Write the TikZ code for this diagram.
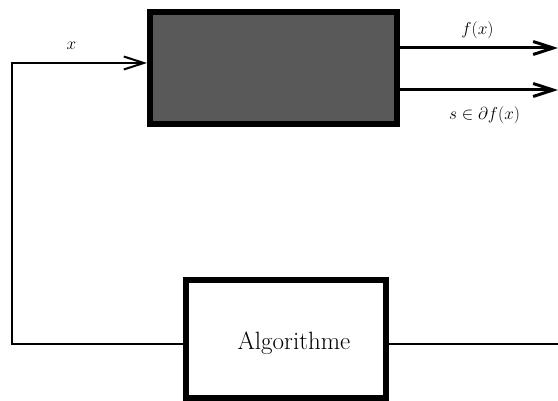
\documentclass[tikz,border=0pt]{standalone}
\usetikzlibrary{arrows.meta}
\definecolor{boxgray}{RGB}{89,89,89}
\begin{document}
\begin{tikzpicture}[x=1pt,y=-1pt,>={Straight Barb[length=20pt,width=13pt]},
		block/.style={draw,line width=6pt,inner sep=0pt,outer sep=0pt},
		wire/.style={line width=2pt},
		output/.style={line width=3pt,->},
		lbl/.style={font=\fontsize{17}{20}\selectfont}]
		\useasboundingbox (0,0) rectangle (558,401);
		\node[block,fill=boxgray,minimum width=247pt,minimum height=112pt] (oracle) at (273.5,68) {};
		\node[block,fill=white,minimum width=200pt,minimum height=118pt] (algo) at (286,339) {};
		\node[font=\fontsize{25}{30}\selectfont] (algoname) at ([xshift=8pt,yshift=-4pt]algo.center) {Algorithme};
		\coordinate (corner) at (12,344);
		\coordinate (xin) at (12,63);
		\coordinate (fout) at (558,48);
		\coordinate (sout) at (558,90);
		\coordinate (aout) at (558,344);
		\draw[output] (oracle.east |- fout) -- (fout) node[lbl,midway,above=4pt] {$f(x)$};
		\draw[output] (oracle.east |- sout) -- (sout) node[lbl,midway,below=12pt,xshift=7pt] {$s\in\partial f(x)$};
		\draw[wire,->,shorten >=3pt] (algo.west |- corner) -- (corner) -- (xin) -- (oracle.west |- xin) node[lbl,pos=0.43,above=9pt] {$x$};
		\draw[wire] (algo.east |- aout) -- (aout);
	\end{tikzpicture}
\end{document}
